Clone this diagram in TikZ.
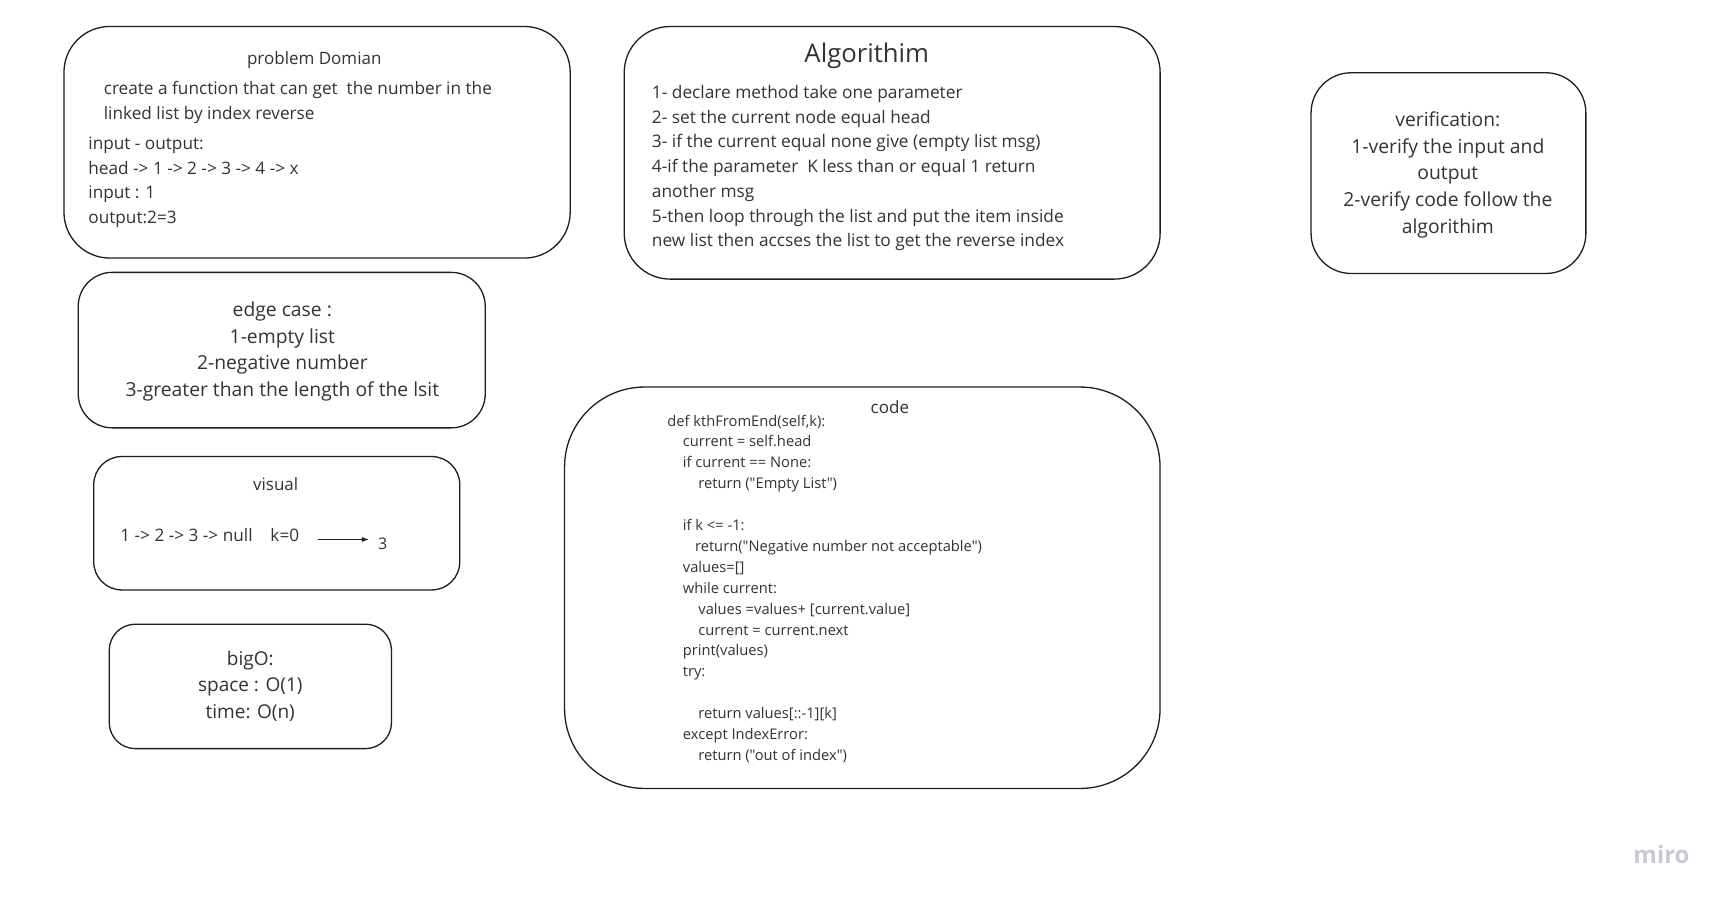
\documentclass[tikz,border=0pt]{standalone}
\usepackage{fontspec}
\setmainfont{Open Sans}[Ligatures=TeXOff]
\usetikzlibrary{arrows.meta}
\definecolor{txtc}{RGB}{51,51,51}
\definecolor{linec}{RGB}{30,30,30}
\definecolor{miroc}{RGB}{200,200,210}
\newcommand\Lines[2]{\begin{tabular}[t]{@{}#1@{}}#2\end{tabular}}
\newcommand\fs[2]{\fontsize{#1}{#2}\selectfont}
\begin{document}
\begin{tikzpicture}[x=0.9955pt,y=-0.9955pt,
  box/.style={draw=linec, line width=1.3pt, inner sep=0pt},
  txt/.style={inner sep=0pt, text=txtc}]
\useasboundingbox[fill=white] (0,0) rectangle (1735.8,907.1);

% boxes
\node[box, rounded corners=45.8, minimum width=506.2, minimum height=231.6] (prob) at (318.5,142.9) {};
\node[box, rounded corners=46, minimum width=535.9, minimum height=252.6] (algo) at (896.2,153.5) {};
\node[box, rounded corners=40, minimum width=274.8, minimum height=200.7] (verif) at (1455,173.9) {};
\node[box, rounded corners=34, minimum width=407.0, minimum height=155.5] (edge) at (283,351.7) {};
\node[box, rounded corners=28, minimum width=366.0, minimum height=133.4] (visual) at (278,525.6) {};
\node[box, rounded corners=26, minimum width=282.2, minimum height=124.4] (bigo) at (251.5,689.5) {};
\node[box, rounded corners=80, minimum width=595.5, minimum height=401.4] (code) at (866.2,590.4) {};

% problem domain
\node[txt, anchor=base, font=\fs{17}{20}] (probtitle) at (315.7,64.5) {problem Domian};
\node[txt, anchor=base west, font=\fs{17.2}{25}] (probbody) at (104.1,94.7)
  {\Lines{l}{create a function that can get\ \ the number in the\\linked list by index reverse}};
\node[txt, anchor=base west, font=\fs{17.2}{24.7}] (probio) at (88.6,150)
  {\Lines{l}{input - output:\\head -> 1 -> 2 -> 3 -> 4 -> x\\input : 1\\output:2=3}};

% algorithm
\node[txt, anchor=base, font=\fs{25.7}{30}] (algotitle) at (870.7,62.8) {Algorithim};
\node[txt, anchor=base west, font=\fs{17.3}{24.74}] (algobody) at (654.7,98.9)
  {\Lines{l}{1- declare method take one parameter\\
  2- set the current node equal head\\
  3- if the current equal none give (empty list msg)\\
  4-if the parameter\ \ K less than or equal 1 return\\
  another msg\\
  5-then loop through the list and put the item inside\\
  new list then accses the list to get the reverse index}};

% verification
\node[txt, anchor=base, font=\fs{19.3}{26.6}] (veriftext) at (1454.4,127.3)
  {\Lines{c}{verification:\\1-verify the input and\\output\\2-verify code follow the\\algorithim}};

% edge case
\node[txt, anchor=base, font=\fs{19.3}{26.95}] (edgetext) at (283.6,317.5)
  {\Lines{c}{edge case :\\1-empty list\\2-negative number\\3-greater than the length of the lsit}};

% visual
\node[txt, anchor=base, font=\fs{17}{20}] (vistitle) at (276.9,492.6) {visual};
\node[txt, anchor=base west, font=\fs{17.2}{20}] (visline) at (120.7,544) {1 -> 2 -> 3 -> null\ \ \ \ k=0};
\node[txt, anchor=base, font=\fs{16}{20}] (three) at (384.4,551.8) {3};
\coordinate (arrstart) at (319,541.9);
\draw[line width=0.9pt, draw=linec, -{Latex[length=7pt,width=5pt]}, shorten >=9pt] (arrstart) -- (arrstart -| three.west);

% bigO
\node[txt, anchor=base, font=\fs{19}{26.6}] (bigotext) at (251.4,668.2)
  {\Lines{c}{bigO:\\space : O(1)\\time: O(n)}};

% code
\node[txt, anchor=base, font=\fs{17}{20}] (codetitle) at (893.9,415.2) {code};
\node[txt, anchor=base west, font=\fs{14.7}{20.9}] (codebody) at (670.2,428)
  {\Lines{l}{def kthFromEnd(self,k):\\
  \hspace*{15.5pt}current = self.head\\
  \hspace*{15.5pt}if current == None:\\
  \hspace*{31pt}return ("Empty List")\\
  \\
  \hspace*{15.5pt}if k <= -1:\\
  \hspace*{27.7pt}return("Negative number not acceptable")\\
  \hspace*{15.5pt}values=[]\\
  \hspace*{15.5pt}while current:\\
  \hspace*{31pt}values =values+ [current.value]\\
  \hspace*{31pt}current = current.next\\
  \hspace*{15.5pt}print(values)\\
  \hspace*{15.5pt}try:\\
  \\
  \hspace*{31pt}return values[::-1][k]\\
  \hspace*{15.5pt}except IndexError:\\
  \hspace*{31pt}return ("out of index")}};

% watermark
\node[inner sep=0pt, anchor=base, text=miroc, font=\bfseries\fs{24}{28}] (miro) at (1669,867) {miro};
\end{tikzpicture}
\end{document}
